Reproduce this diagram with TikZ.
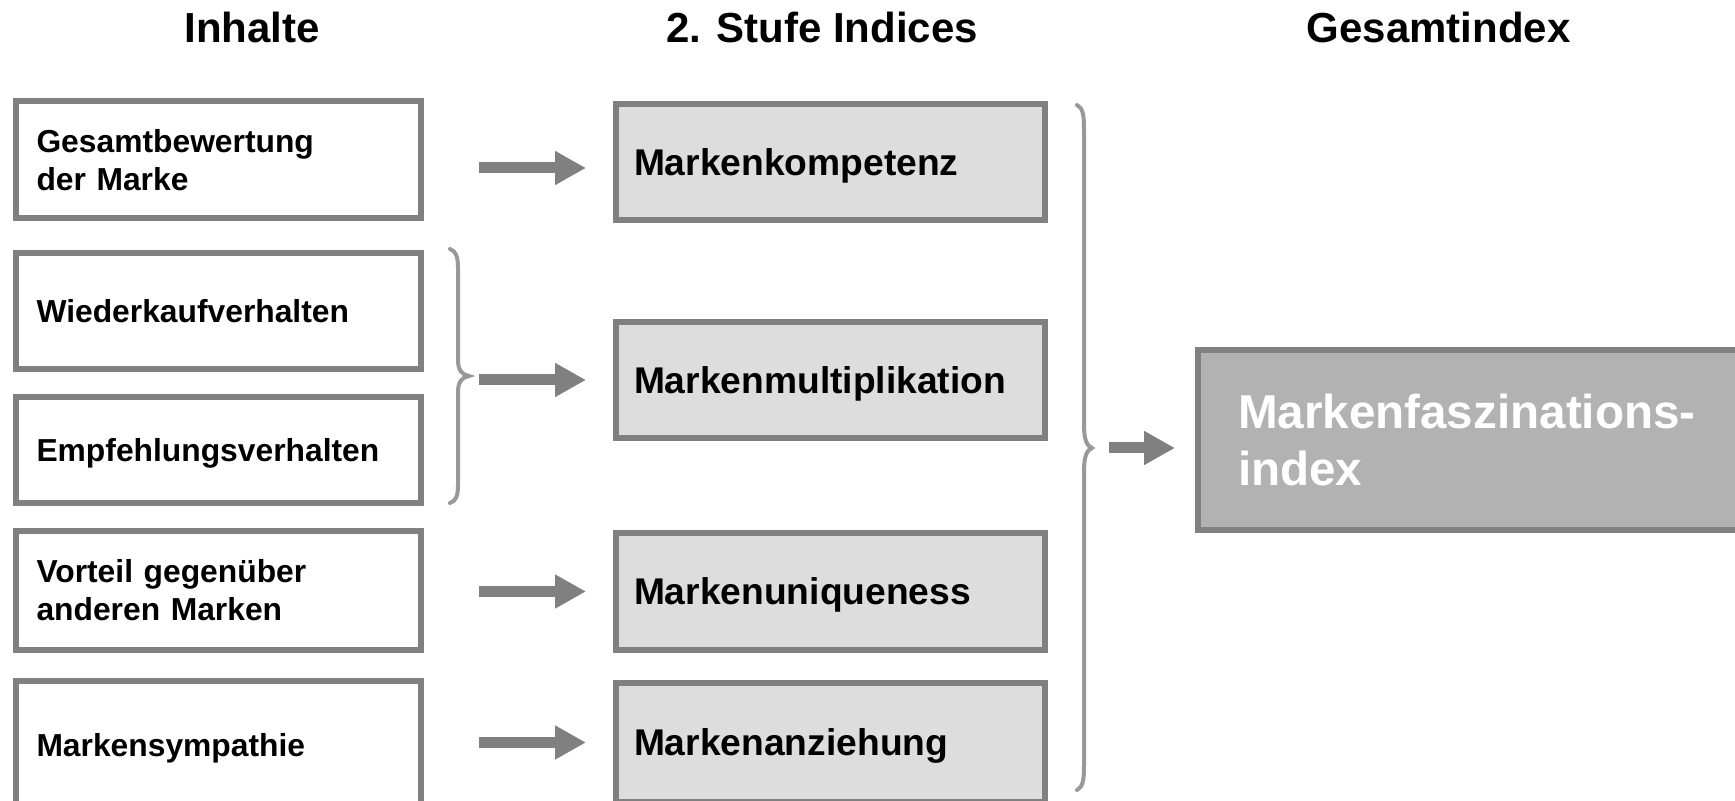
\documentclass[tikz,border=0pt]{standalone}
\usepackage{fontspec}
\setmainfont{Liberation Sans}
\usetikzlibrary{arrows.meta}
\definecolor{bordergray}{HTML}{808080}
\definecolor{midfill}{HTML}{DDDDDD}
\definecolor{finalfill}{HTML}{B2B2B2}
\definecolor{bracegray}{HTML}{999999}
\begin{document}
\begin{tikzpicture}[x=0.5pt,y=-0.5pt,
  title/.style={anchor=base, font=\bfseries\fontsize{21}{25}\selectfont},
  inbox/.style={draw=bordergray, line width=3pt, fill=white, text width=182pt,
    inner xsep=10.25pt, inner ysep=0pt, align=left, anchor=center,
    font=\bfseries\fontsize{15.9}{19}\selectfont},
  midbox/.style={draw=bordergray, line width=3pt, fill=midfill, text width=196.5pt,
    inner xsep=9pt, inner ysep=0pt, align=left, anchor=center, text depth=0pt,
    font=\bfseries\fontsize{18.6}{22}\selectfont},
  finalbox/.style={draw=bordergray, line width=3pt, fill=finalfill, text width=261pt,
    inner xsep=20pt, inner ysep=0pt, align=left, anchor=center, text=white,
    font=\bfseries\fontsize{23.8}{28.5}\selectfont},
  arr/.style={draw=bordergray, line width=5.5pt,
    -{Triangle[length=15.5pt,width=16pt]}, shorten >=13.5pt},
  bracepath/.style={draw=bracegray, line width=2pt, line cap=round}
]
\useasboundingbox (0,0) rectangle (1735,801);
\clip (0,0) rectangle (1735,801);

% titles
\node[title] (t1) at (252,43) {Inhalte};
\node[title] (t2) at (822,43) {2. Stufe Indices};
\node[title] (t3) at (1438.5,43) {Gesamtindex};

% left boxes
\node[inbox, minimum height=58.25pt] (b1) at (218.5,159.75) {Gesamtbewertung\\der Marke};
\node[inbox, minimum height=58pt] (b2) at (218.5,311) {Wiederkaufverhalten};
\node[inbox, minimum height=53pt, text depth=0pt] (b3) at (218.5,450) {Empfehlungsverhalten};
\node[inbox, minimum height=59.5pt] (b4) at (218.5,590.5) {Vorteil gegenüber\\anderen Marken};
\node[inbox, minimum height=64pt, text depth=0pt] (b5) at (218.5,745) {Markensympathie};

% middle boxes
\node[midbox, minimum height=58.25pt] (m1) at (830.5,162) {Markenkompetenz};
\node[midbox, minimum height=58.25pt] (m2) at (830.5,380) {Markenmultiplikation};
\node[midbox, minimum height=58.5pt] (m3) at (830.5,591.5) {Markenuniqueness};
\node[midbox, minimum height=59.5pt] (m4) at (830.5,742.5) {Markenanziehung};

% final box
\node[finalbox, minimum height=90pt] (f) at (1499,440) {Markenfaszinations-\\index};

% arrow starts
\coordinate (a1) at (479,168);
\coordinate (a2) at (479,380);
\coordinate (a3) at (479,591.5);
\coordinate (a4) at (479,742.5);
\coordinate (a5) at (1109,448);

\draw[arr] (a1) -- (a1 -| m1.west);
\draw[arr] (a2) -- (a2 -| m2.west);
\draw[arr] (a3) -- (a3 -| m3.west);
\draw[arr] (a4) -- (a4 -| m4.west);
\draw[arr, shorten >=10pt] (a5) -- (a5 -| f.west);

% small brace
\draw[bracepath] (450,249) .. controls (456,251) and (458,257) .. (458,268)
  -- (458,360) .. controls (458,370) and (462,375) .. (469,376)
  .. controls (462,377) and (458,382) .. (458,392)
  -- (458,485) .. controls (458,496) and (456,501) .. (450,503);

% big brace
\draw[bracepath] (1077,105) .. controls (1083,108) and (1084,115) .. (1084,130)
  -- (1084,425) .. controls (1084,440) and (1087,446) .. (1092,448)
  .. controls (1087,450) and (1084,456) .. (1084,471)
  -- (1084,765) .. controls (1084,780) and (1083,787) .. (1077,790);
\end{tikzpicture}
\end{document}
